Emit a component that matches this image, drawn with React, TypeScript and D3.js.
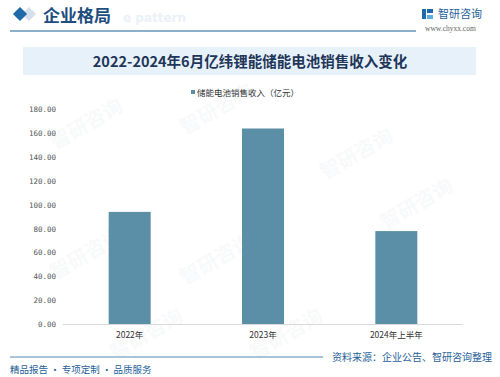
import React from "react";
import * as d3 from "d3";

const categories = ["2022年", "2023年", "2024年上半年"];
const revenue = [94.0, 163.9, 77.9];
const yTicks = [0, 20, 40, 60, 80, 100, 120, 140, 160, 180];
const title = "2022-2024年6月亿纬锂能储能电池销售收入变化";
const legendLabel = "储能电池销售收入（亿元）";

const W = 500;
const H = 377;
const CJK = "'Noto Sans CJK SC', 'Noto Sans', sans-serif";

export default function App() {
  const x = d3
    .scaleBand<string>()
    .domain(categories)
    .range([63, 463])
    .paddingInner(0.685)
    .paddingOuter(0.3425);
  const y = d3.scaleLinear().domain([0, 180]).range([324, 109.3]);
  const barColor = "#5b8ea7";
  const blue = "#1f5f9a";

  const marks = [
    { x: 90, y: 130 }, { x: 220, y: 115 }, { x: 360, y: 160 }, { x: 90, y: 260 },
    { x: 220, y: 265 }, { x: 420, y: 210 }, { x: 150, y: 340 }, { x: 290, y: 340 },
  ];

  return (
    <svg width={W} height={H} style={{ position: "absolute", left: 0, top: 0, background: "#fff" }}>
      <rect x={0} y={0} width={W} height={H} fill="#fff" />
      {/* watermarks */}
      {marks.map((m, i) => (
        <text key={i} x={m.x} y={m.y} transform={`rotate(-30 ${m.x} ${m.y})`} fontFamily={CJK}
          fontSize={20} fontWeight={700} fill="#9aa8b5" opacity={0.06} textAnchor="middle">
          智研咨询
        </text>
      ))}
      {/* header */}
      <rect x={24} y={9} width={10} height={10} transform="rotate(45 29 14)" fill="#c9d9e8" opacity={0.8} />
      <rect x={15} y={9} width={10} height={10} transform="rotate(45 20 14)" fill="#1f6aa8" />
      <text x={123} y={22} fontFamily="'DejaVu Sans', sans-serif" fontWeight={700} fontSize={12} fill="#eaf1f8">
        e pattern
      </text>
      <text x={43} y={22} fontFamily={CJK} fontWeight={700} fontSize={17} fill="#1d4e7e">
        企业格局
      </text>
      <line x1={10} x2={416} y1={31} y2={31} stroke="#8cb0c9" strokeWidth={2} />
      {/* logo */}
      <rect x={422} y={9} width={4} height={10} fill="#1f6aa8" />
      <rect x={427} y={9} width={6} height={4} fill="#1f6aa8" />
      <rect x={427} y={15} width={6} height={4} fill="#5bb0e0" />
      <text x={438} y={18} fontFamily={CJK} fontSize={11} fill={blue}>智研咨询</text>
      <text x={425} y={31} fontFamily="'Liberation Serif', serif" fontSize={7.5} fill="#666">www.chyxx.com</text>
      {/* title band */}
      <rect x={23} y={47} width={453} height={28} fill="#e6f1fa" />
      <text x={250} y={66.5} textAnchor="middle" fontFamily={CJK} fontWeight={700} fontSize={14.5} fill="#1f3658">
        {title}
      </text>
      {/* legend */}
      <rect x={191} y={90} width={4} height={4} fill={barColor} />
      <text x={197} y={95.5} fontFamily={CJK} fontSize={8.5} fill="#333">{legendLabel}</text>
      {/* y ticks */}
      {yTicks.map((t) => (
        <text key={t} x={56} y={y(t) + 3} textAnchor="end" fontFamily="'DejaVu Sans Mono', monospace"
          fontSize={7.5} fill="#555">
          {t.toFixed(2)}
        </text>
      ))}
      {/* bars */}
      {categories.map((c, i) => (
        <rect key={c} x={x(c)} y={y(revenue[i])} width={x.bandwidth()} height={y(0) - y(revenue[i])} fill={barColor} />
      ))}
      <line x1={63} x2={463} y1={y(0) + 0.5} y2={y(0) + 0.5} stroke="#d9d9d9" strokeWidth={1} />
      {categories.map((c) => (
        <text key={c} x={(x(c) as number) + x.bandwidth() / 2} y={338} textAnchor="middle" fontFamily={CJK}
          fontSize={8.5} fill="#333">
          {c}
        </text>
      ))}
      {/* footer */}
      <line x1={10} x2={323} y1={357} y2={357} stroke="#8cb0c9" strokeWidth={1.5} />
      <text x={492} y={361} textAnchor="end" fontFamily={CJK} fontSize={10} fill={blue}>
        资料来源：企业公告、智研咨询整理
      </text>
      <text x={10} y={373} fontFamily={CJK} fontSize={9.5} fill={blue}>
        精品报告 · 专项定制 · 品质服务
      </text>
    </svg>
  );
}
